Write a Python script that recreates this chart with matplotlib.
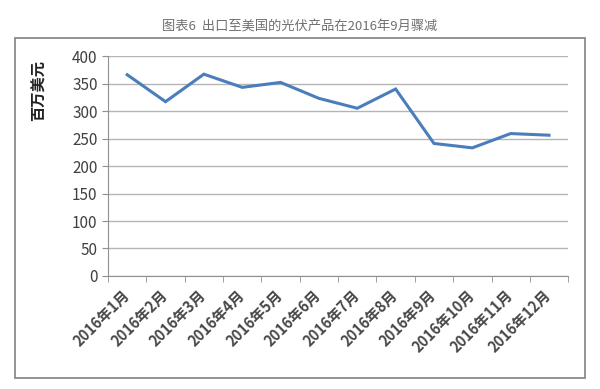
import matplotlib.pyplot as plt
from matplotlib.patches import Rectangle
from matplotlib.transforms import ScaledTranslation

plt.rcParams['font.family'] = ['Noto Sans CJK SC', 'DejaVu Sans']

months = ['2016年1月', '2016年2月', '2016年3月', '2016年4月', '2016年5月', '2016年6月',
          '2016年7月', '2016年8月', '2016年9月', '2016年10月', '2016年11月', '2016年12月']
values = [366, 317, 367, 343, 352, 323, 305, 340, 241, 233, 259, 256]
yticks = [0, 50, 100, 150, 200, 250, 300, 350, 400]

fig = plt.figure(figsize=(6, 3.89), dpi=100)
fig.patches.append(Rectangle((0.025, 0.028), 0.95, 0.874, transform=fig.transFigure,
                             fill=False, edgecolor='#808080', linewidth=1.2))
fig.text(0.5, 0.93, '图表6  出口至美国的光伏产品在2016年9月骤减', ha='center', va='center',
         fontsize=9.5, color='#707070')

ax = fig.add_axes((0.18, 0.2905, 0.767, 0.5655))
x = list(range(len(months)))
ax.plot(x, values, color='#4A7EBB', linewidth=2.2, solid_joinstyle='miter')

ax.set_xlim(-0.5, len(months) - 0.5)
ax.set_ylim(0, 400)
ax.set_yticks(yticks)
ax.yaxis.grid(True, color='#b5b5b5', linewidth=1)
ax.set_axisbelow(True)

# category labels, drawn as text so they can sit a little left of each tick
ax.set_xticks([])
off = ScaledTranslation(-0.06, -0.11, fig.dpi_scale_trans)
for i, m in enumerate(months):
    ax.text(i, 0, m, transform=ax.get_xaxis_transform() + off, rotation=45,
            ha='right', va='top', rotation_mode='anchor',
            fontsize=10.5, fontweight='bold', color='#484848')
ax.set_xticks([i - 0.5 for i in range(len(months) + 1)], minor=True)
ax.tick_params(axis='x', which='minor', length=4, color='#909090')
ax.tick_params(axis='y', length=4, color='#909090', labelsize=11, labelcolor='#404040')

for s in ['top', 'right']:
    ax.spines[s].set_visible(False)
ax.spines['left'].set_color('#909090')
ax.spines['bottom'].set_color('#909090')

ax.set_ylabel('百万美元', fontsize=11, fontweight='bold', color='#222222')
ax.yaxis.set_label_coords(-0.133, 0.845)

fig.savefig('out.png', dpi=100)
